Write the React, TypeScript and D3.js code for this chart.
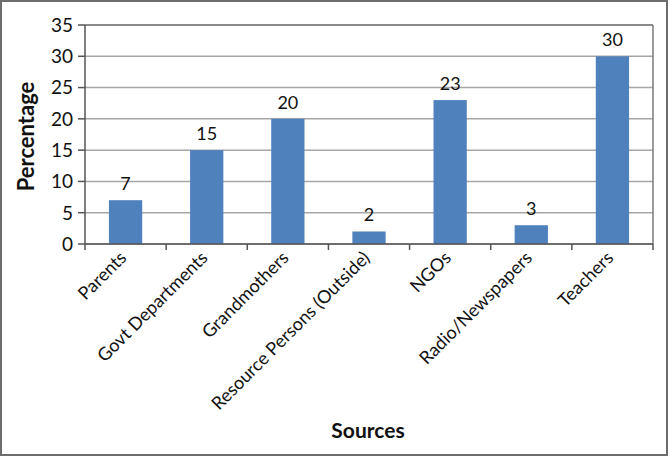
import React from "react";
import * as d3 from "d3";

// chart data
const sources = [
  "Parents",
  "Govt Departments",
  "Grandmothers",
  "Resource Persons (Outside)",
  "NGOs",
  "Radio/Newspapers",
  "Teachers",
];
const percentages = [7, 15, 20, 2, 23, 3, 30];
const yTicks = [0, 5, 10, 15, 20, 25, 30, 35];

const W = 670;
const H = 458;
const margin = { top: 25, right: 17, bottom: 214, left: 85 };
const font = "Lato, 'Open Sans', sans-serif";

const App = () => {
  const innerW = W - margin.left - margin.right;
  const innerH = H - margin.top - margin.bottom;

  const x = d3.scaleBand().domain(sources).range([0, innerW]).paddingInner(0.59).paddingOuter(0.295);
  const band = d3.scaleBand().domain(sources).range([0, innerW]);
  const y = d3.scaleLinear().domain([0, 35]).range([innerH, 0]);

  return (
    <svg
      width={W}
      height={H}
      style={{ position: "absolute", left: 0, top: 0, background: "#fff" }}
      fontFamily={font}
    >
      <rect x={1} y={1} width={W - 4} height={H - 4} fill="#fff" stroke="#6d6d6d" strokeWidth={2} />
      <g transform={`translate(${margin.left},${margin.top})`}>
        {/* gridlines */}
        {yTicks.map((t) => (
          <line key={t} x1={0} x2={innerW} y1={y(t)} y2={y(t)} stroke="#a6a6a6" strokeWidth={1.5} />
        ))}
        {/* plot frame */}
        <line x1={0} x2={innerW} y1={0} y2={0} stroke="#7a7a7a" strokeWidth={1.5} />
        <line x1={innerW} x2={innerW} y1={0} y2={innerH} stroke="#7a7a7a" strokeWidth={1.5} />
        {/* bars */}
        {sources.map((s, i) => (
          <rect
            key={s}
            x={x(s)}
            y={y(percentages[i])}
            width={x.bandwidth()}
            height={innerH - y(percentages[i])}
            fill="#4f81bd"
          />
        ))}
        {/* value labels */}
        {sources.map((s, i) => (
          <text
            key={s}
            x={(x(s) as number) + x.bandwidth() / 2}
            y={y(percentages[i]) - 10}
            textAnchor="middle"
            fontSize={18}
            fill="#111"
          >
            {percentages[i]}
          </text>
        ))}
        {/* y axis */}
        <line x1={0} x2={0} y1={0} y2={innerH} stroke="#555" strokeWidth={1.5} />
        {yTicks.map((t) => (
          <g key={t}>
            <line x1={-7} x2={0} y1={y(t)} y2={y(t)} stroke="#555" strokeWidth={1.5} />
            <text x={-12} y={y(t)} dy="0.36em" textAnchor="end" fontSize={19} fill="#111">
              {t}
            </text>
          </g>
        ))}
        {/* x axis */}
        <line x1={0} x2={innerW} y1={innerH} y2={innerH} stroke="#555" strokeWidth={1.5} />
        {d3.range(sources.length + 1).map((i) => (
          <line
            key={i}
            x1={i * band.step()}
            x2={i * band.step()}
            y1={innerH}
            y2={innerH + 6}
            stroke="#555"
            strokeWidth={1.5}
          />
        ))}
        {sources.map((s) => (
          <text
            key={s}
            transform={`translate(${(band(s) as number) + band.bandwidth() / 2 + 2},${innerH + 15}) rotate(-45)`}
            textAnchor="end"
            fontSize={18}
            fill="#111"
          >
            {s}
          </text>
        ))}
      </g>
      <text
        transform={`translate(34,${margin.top + innerH / 2 + 2}) rotate(-90)`}
        textAnchor="middle"
        fontSize={22}
        fontWeight={700}
        fill="#111"
      >
        Percentage
      </text>
      <text x={368} y={438} textAnchor="middle" fontSize={21} fontWeight={700} fill="#111">
        Sources
      </text>
    </svg>
  );
};

export default App;
